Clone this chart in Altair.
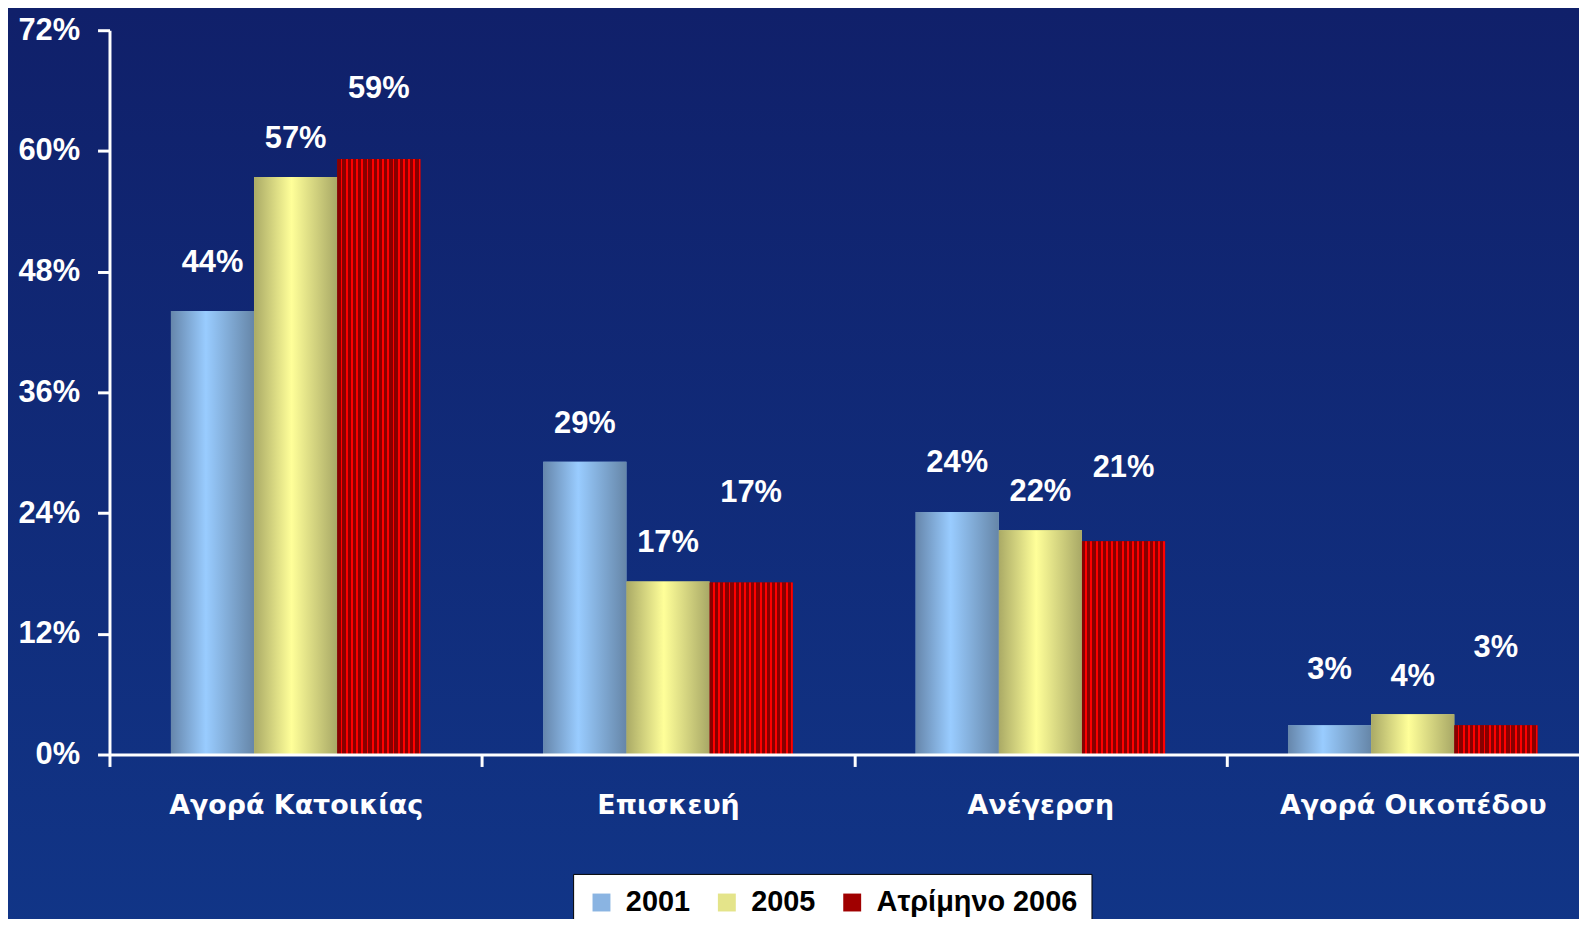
import altair as alt
import pandas as pd

categories = ["Αγορά Κατοικίας", "Επισκευή", "Ανέγερση", "Αγορά Οικοπέδου"]
series = ["2001", "2005", "Ατρίμηνο 2006"]
values_2001 = [44.1, 29.1, 24.1, 2.9]
values_2005 = [57.4, 17.2, 22.3, 4.0]
values_2006 = [59.2, 17.1, 21.2, 2.9]
labels_2001 = ["44%", "29%", "24%", "3%"]
labels_2005 = ["57%", "17%", "22%", "4%"]
labels_2006 = ["59%", "17%", "21%", "3%"]
labelpos_2001 = [48.9, 32.9, 29.0, 8.4]
labelpos_2005 = [61.2, 21.0, 26.1, 7.7]
labelpos_2006 = [66.2, 26.0, 28.5, 10.6]
y_ticks = [0, 12, 24, 36, 48, 60, 72]

rows = []
for s, vals, labs, pos in [
    (series[0], values_2001, labels_2001, labelpos_2001),
    (series[1], values_2005, labels_2005, labelpos_2005),
    (series[2], values_2006, labels_2006, labelpos_2006),
]:
    for c, v, l, p in zip(categories, vals, labs, pos):
        rows.append({"category": c, "series": s, "value": v, "label": l, "labelpos": p})
df = pd.DataFrame(rows)

W, H = 1477, 728
X_RANGE = 1497
PAD_L, PAD_T, PAD_B = 102, 20, 163

bg_grad = {"gradient": "linear", "x1": 0, "y1": 0, "x2": 0, "y2": 1,
           "stops": [{"offset": 0, "color": "#10206a"}, {"offset": 1, "color": "#113587"}]}
blue_grad = {"gradient": "linear", "x1": 0, "y1": 0, "x2": 1, "y2": 0,
             "stops": [{"offset": 0, "color": "#6686ab"}, {"offset": 0.42, "color": "#99ccff"},
                       {"offset": 1, "color": "#6686a8"}]}
yellow_grad = {"gradient": "linear", "x1": 0, "y1": 0, "x2": 1, "y2": 0,
               "stops": [{"offset": 0, "color": "#aaaa66"}, {"offset": 0.45, "color": "#ffff99"},
                         {"offset": 1, "color": "#a8a866"}]}
red_stops = []
N = 16
for i in range(N):
    a, b, c = i / N, (i + 0.64) / N, (i + 1) / N
    red_stops += [{"offset": a, "color": "#880000"}, {"offset": b, "color": "#880000"},
                  {"offset": b, "color": "#ff0000"}, {"offset": c, "color": "#ff0000"}]
red_grad = {"gradient": "linear", "x1": 0, "y1": 0, "x2": 1, "y2": 0, "stops": red_stops}

x_enc = alt.X("category:N", sort=categories,
              scale=alt.Scale(rangeMin=0, rangeMax=X_RANGE, paddingInner=0, paddingOuter=0),
              axis=alt.Axis(title=None, labelAngle=0, tickBand="extent", zindex=1,
                            domainColor="white", domainWidth=3, tickColor="white", tickWidth=3,
                            tickSize=12, labelColor="white", labelFont="DejaVu Sans",
                            labelFontSize=27, labelFontWeight="bold", labelPadding=26,
                            labelLimit=400))
xo_enc = alt.XOffset("series:N", sort=series,
                     scale=alt.Scale(domain=series, paddingInner=0, paddingOuter=0.739))
y_axis = alt.Axis(title=None, values=y_ticks, labelExpr="datum.value + '%'", grid=False, zindex=1,
                  domainColor="white", domainWidth=3, tickColor="white", tickWidth=3, tickSize=12,
                  labelColor="white", labelFont="Liberation Sans", labelFontSize=31,
                  labelFontWeight="bold", labelPadding=18)
y_scale = alt.Scale(domain=[0, 72], nice=False, zero=True)

background = alt.Chart(pd.DataFrame({"k": [0]})).mark_rect(fill=bg_grad).encode(
    x=alt.value(-PAD_L), x2=alt.value(W + 10), y=alt.value(-PAD_T), y2=alt.value(H + PAD_B + 10))

base = alt.Chart(df)

solid = base.mark_bar().encode(
    x=x_enc, xOffset=xo_enc,
    y=alt.Y("value:Q", scale=y_scale, axis=y_axis),
    color=alt.Color("series:N", sort=series,
                    scale=alt.Scale(domain=series, range=["#8ab4e2", "#e4e48a", "#a00000"]),
                    legend=alt.Legend(title=None, orient="none", legendX=466, legendY=848,
                                      direction="horizontal", fillColor="white", strokeColor="black",
                                      padding=14, symbolType="square", symbolSize=324,
                                      symbolStrokeWidth=0, labelFont="Liberation Sans",
                                      labelFontSize=29, labelFontWeight="bold", labelColor="black",
                                      labelOffset=10, columnPadding=22, labelLimit=500)),
)

grad = base.mark_bar().encode(
    x=x_enc, xOffset=xo_enc,
    y=alt.Y("value:Q", scale=y_scale, axis=y_axis),
    fill=alt.FillValue(value=red_grad, condition=[
        {"test": "datum.series === '2001'", "value": blue_grad},
        {"test": "datum.series === '2005'", "value": yellow_grad},
    ]),
)

text = base.mark_text(font="Liberation Sans", fontSize=31, fontWeight="bold", color="white",
                      baseline="middle", align="center").encode(
    x=x_enc, xOffset=xo_enc,
    y=alt.Y("labelpos:Q", scale=y_scale, axis=y_axis),
    text="label:N",
)

chart = alt.layer(background, solid, grad, text).properties(
    width=W, height=H,
    autosize=alt.AutoSizeParams(type="none"),
    padding={"left": PAD_L, "top": PAD_T, "right": 0, "bottom": PAD_B},
).configure(background="#10206a").configure_view(stroke=None)

chart.save("out.html", embed_options={"renderer": "svg", "actions": False})
